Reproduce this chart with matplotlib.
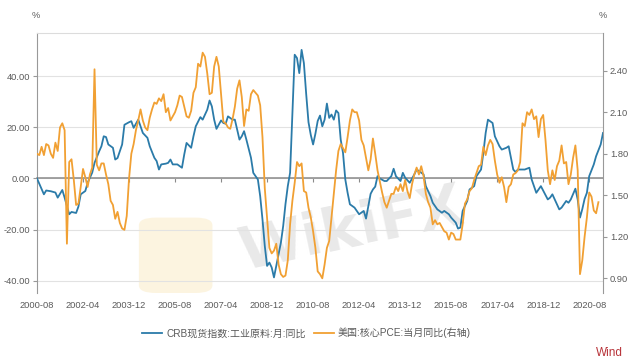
import numpy as np
import pandas as pd
import matplotlib
matplotlib.use('Agg')
import matplotlib.pyplot as plt
from matplotlib.patches import FancyBboxPatch

plt.rcParams['font.family'] = ['Liberation Sans', 'Noto Sans CJK SC', 'DejaVu Sans']
plt.rcParams['axes.unicode_minus'] = False

# CRB raw industrials, yoy (%), left axis
crb_data = [
    ("2000-08", 0.0), ("2000-11", -6.2), ("2000-12", -4.7),
    ("2001-02", -5.0), ("2001-04", -5.5), ("2001-05", -7.5), ("2001-07", -4.5), ("2001-08", -7.5),
    ("2001-10", -14.0), ("2001-11", -13.1),
    ("2002-01", -13.5), ("2002-02", -11.0), ("2002-03", -6.2), ("2002-05", -4.9), ("2002-06", -1.7),
    ("2002-08", 2.3), ("2002-09", 6.1), ("2002-11", 10.6), ("2002-12", 12.6),
    ("2003-01", 16.5), ("2003-02", 16.2), ("2003-03", 13.3), ("2003-05", 12.0), ("2003-06", 7.4),
    ("2003-07", 8.0), ("2003-09", 13.3), ("2003-10", 21.0), ("2003-12", 22.0),
    ("2004-01", 22.4), ("2004-02", 19.8), ("2004-04", 23.0), ("2004-06", 17.8), ("2004-08", 15.9),
    ("2004-09", 12.6), ("2004-11", 8.1), ("2004-12", 6.8),
    ("2005-01", 3.5), ("2005-02", 5.5), ("2005-04", 5.8), ("2005-05", 6.1), ("2005-06", 7.4),
    ("2005-07", 5.5), ("2005-09", 5.5), ("2005-11", 4.2), ("2005-12", 9.4),
    ("2006-01", 13.9), ("2006-03", 12.0), ("2006-04", 16.5), ("2006-05", 20.4), ("2006-07", 24.0),
    ("2006-08", 23.0), ("2006-10", 26.9), ("2006-11", 30.5), ("2006-12", 28.2),
    ("2007-01", 23.0), ("2007-02", 19.4), ("2007-04", 22.7), ("2007-05", 21.7), ("2007-06", 21.4),
    ("2007-07", 24.3), ("2007-09", 23.0), ("2007-10", 23.0), ("2007-12", 15.2),
    ("2008-01", 16.5), ("2008-02", 18.5), ("2008-03", 15.2), ("2008-05", 8.1), ("2008-06", 2.2),
    ("2008-08", -0.4), ("2008-09", -6.9), ("2008-10", -16.0), ("2008-11", -26.4), ("2008-12", -34.2),
    ("2009-01", -32.9), ("2009-02", -34.8), ("2009-03", -38.7), ("2009-04", -34.2), ("2009-06", -25.1),
    ("2009-07", -18.6), ("2009-08", -10.0), ("2009-09", -3.0), ("2009-10", 2.2), ("2009-11", 25.6),
    ("2009-12", 48.4),
    ("2010-01", 47.1), ("2010-02", 41.2), ("2010-03", 50.3), ("2010-04", 45.1), ("2010-05", 33.0),
    ("2010-06", 22.0), ("2010-07", 17.0), ("2010-08", 13.3), ("2010-09", 17.5), ("2010-10", 22.5),
    ("2010-11", 24.6), ("2010-12", 20.4),
    ("2011-01", 23.0), ("2011-02", 29.3), ("2011-03", 23.7), ("2011-04", 25.0), ("2011-05", 23.0),
    ("2011-06", 26.6), ("2011-07", 25.6), ("2011-08", 15.2), ("2011-09", 10.0), ("2011-10", -0.4),
    ("2011-11", -5.6), ("2011-12", -10.1),
    ("2012-02", -11.4), ("2012-03", -12.7), ("2012-04", -14.0), ("2012-06", -12.7), ("2012-07", -15.7),
    ("2012-08", -10.8), ("2012-09", -6.0), ("2012-10", -4.3), ("2012-11", -3.2), ("2012-12", 0.9),
    ("2013-01", 0.0), ("2013-03", -1.0), ("2013-04", -1.0), ("2013-06", 0.9), ("2013-07", 3.8),
    ("2013-08", 0.9), ("2013-10", -1.0), ("2013-11", 2.2), ("2013-12", 0.3),
    ("2014-02", -1.7), ("2014-04", 1.6), ("2014-05", 3.5), ("2014-06", 2.9), ("2014-08", 1.6),
    ("2014-09", -3.0), ("2014-11", -6.9), ("2014-12", -9.5),
    ("2015-02", -12.1), ("2015-04", -13.4), ("2015-05", -12.7), ("2015-07", -14.0), ("2015-08", -15.3),
    ("2015-10", -17.3), ("2015-11", -19.6), ("2015-12", -19.2),
    ("2016-01", -12.7), ("2016-03", -8.8), ("2016-04", -4.3), ("2016-06", -3.0), ("2016-07", 0.9),
    ("2016-09", 3.5), ("2016-10", 10.0), ("2016-11", 17.8), ("2016-12", 23.0),
    ("2017-02", 21.7), ("2017-03", 16.5), ("2017-05", 12.6), ("2017-06", 11.3), ("2017-08", 12.0),
    ("2017-09", 12.6), ("2017-10", 8.0), ("2017-11", 3.5), ("2017-12", 2.5),
    ("2018-01", 3.5), ("2018-03", 3.5), ("2018-04", 3.5), ("2018-06", 4.2), ("2018-07", -0.4),
    ("2018-09", -5.6), ("2018-11", -3.0),
    ("2019-02", -8.2), ("2019-03", -7.5), ("2019-04", -6.2), ("2019-07", -12.1), ("2019-08", -11.4),
    ("2019-10", -8.8), ("2019-11", -9.5), ("2019-12", -8.2),
    ("2020-02", -4.0), ("2020-03", -8.2), ("2020-04", -15.3), ("2020-05", -12.0), ("2020-06", -8.0),
    ("2020-07", -5.6), ("2020-08", 0.9), ("2020-10", 5.5), ("2020-11", 8.7),
    ("2021-01", 13.3), ("2021-02", 17.8),
]

# US core PCE yoy (%), right axis, monthly from pce_start
pce_start = "2000-08"
pce_values = [
    1.80, 1.79, 1.85, 1.79, 1.87,
    1.86, 1.80, 1.77, 1.88, 1.82, 1.99, 2.02, 1.97, 1.15, 1.74, 1.76, 1.61,
    1.43, 1.44, 1.56, 1.69, 1.63, 1.56, 1.65, 1.70, 2.41, 1.72, 1.68, 1.73,
    1.73, 1.65, 1.58, 1.46, 1.43, 1.33, 1.38, 1.30, 1.26, 1.25, 1.35, 1.62,
    1.80, 1.87, 1.97, 2.04, 2.12, 2.04, 1.99, 1.97, 2.06, 2.12, 2.17, 2.16,
    2.20, 2.18, 2.23, 2.10, 2.13, 2.04, 2.07, 2.10, 2.15, 2.22, 2.21, 2.14,
    2.07, 2.06, 2.11, 2.24, 2.28, 2.45, 2.43, 2.53, 2.50, 2.38, 2.23, 2.24,
    2.43, 2.50, 2.43, 2.23, 2.03, 2.02, 1.99, 1.98, 2.05, 2.14, 2.27, 2.33,
    2.21, 2.00, 2.12, 2.11, 2.23, 2.26, 2.24, 2.22, 2.15, 1.92, 1.55, 1.34,
    1.12, 1.08, 1.10, 1.15, 1.00, 0.93, 0.91, 0.92, 1.03, 1.29, 1.46, 1.59,
    1.74, 1.71, 1.73, 1.53, 1.52, 1.41, 1.34, 1.24, 1.12, 0.95, 0.93, 0.90,
    1.00, 1.12, 1.17, 1.34, 1.51, 1.68, 1.82, 1.87, 1.84, 1.81, 1.92, 2.04,
    2.12, 2.10, 2.10, 2.04, 1.90, 1.86, 1.77, 1.68, 1.76, 1.91, 1.80, 1.68,
    1.60, 1.52, 1.45, 1.41, 1.46, 1.51, 1.51, 1.56, 1.53, 1.58, 1.53, 1.61,
    1.53, 1.48, 1.58, 1.65, 1.70, 1.65, 1.71, 1.64, 1.51, 1.45, 1.41, 1.29,
    1.32, 1.29, 1.30, 1.27, 1.24, 1.23, 1.18, 1.23, 1.22, 1.18, 1.18, 1.18,
    1.29, 1.44, 1.47, 1.53, 1.55, 1.61, 1.66, 1.71, 1.72, 1.85, 1.79, 1.86,
    1.90, 1.87, 1.75, 1.65, 1.59, 1.63, 1.56, 1.45, 1.56, 1.58, 1.65, 1.66,
    1.68, 1.74, 2.02, 2.00, 2.10, 2.08, 2.12, 2.05, 2.07, 1.92, 2.05, 2.08,
    1.90, 1.68, 1.58, 1.68, 1.61, 1.71, 1.75, 1.86, 1.73, 1.74, 1.58, 1.65,
    1.77, 1.86, 1.68, 0.93, 1.03, 1.20, 1.34, 1.52, 1.49, 1.39, 1.37, 1.45,
]

x_ticklabels = ["2000-08", "2002-04", "2003-12", "2005-08", "2007-04", "2008-12", "2010-08",
                "2012-04", "2013-12", "2015-08", "2017-04", "2018-12", "2020-08"]
x_end = "2021-02"
left_ticks = [-40, -20, 0, 20, 40]
right_ticks = [0.9, 1.2, 1.5, 1.8, 2.1, 2.4]

crb_label = "CRB现货指数:工业原料:月:同比"
pce_label = "美国:核心PCE:当月同比(右轴)"

BLUE = "#2b7ba9"
ORANGE = "#f1a033"
TXT = "#5a5a5a"

start = pd.Period(pce_start, "M")


def month_pos(s):
    return (pd.Period(s, "M") - start).n


crb_x = np.array([month_pos(m) for m, _ in crb_data])
crb_y = np.array([v for _, v in crb_data])
pce_x = np.arange(len(pce_values))
pce_y = np.array(pce_values)

fig = plt.figure(figsize=(6.36, 3.64), dpi=100)
ax = fig.add_axes([37/636, 1 - 293/364, 566/636, 260/364])
ax2 = ax.twinx()

# watermark (faint)
logo = FancyBboxPatch((0.18, 0.0), 0.13, 0.29, boxstyle="round,pad=0,rounding_size=0.03",
                      transform=ax.transAxes, fc="#fcf2d9", ec="none", alpha=0.8, zorder=0)
ax.add_patch(logo)
ax.text(0.555, 0.24, "WikiFX", transform=ax.transAxes, fontsize=42, fontweight="bold",
        color="#e9e9e9", rotation=12, ha="center", va="center", zorder=0, family="DejaVu Sans")

l1, = ax.plot(crb_x, crb_y, color=BLUE, lw=1.3, zorder=3)
l2, = ax2.plot(pce_x, pce_y, color=ORANGE, lw=1.3, zorder=3)

ax.set_xlim(0, month_pos(x_end))
ax.set_ylim(-44.8, 56.9)
ax2.set_ylim(0.794, 2.672)

ax.set_yticks(left_ticks)
ax.set_yticklabels(["%.2f" % v for v in left_ticks])
ax2.set_yticks(right_ticks)
ax2.set_yticklabels(["%.2f" % v for v in right_ticks])

ax.grid(axis="y", color="#e2e2e2", lw=0.8)
ax.set_axisbelow(True)

# x axis line on the zero level, labels at the bottom
tick_pos = [month_pos(s) for s in x_ticklabels]
ax.spines["bottom"].set_position(("data", 0))
ax.spines["bottom"].set_color("#8a8a8a")
ax.spines["bottom"].set_linewidth(1.1)
ax.set_xticks(tick_pos)
ax.tick_params(axis="x", length=3, width=0.8, color="#8a8a8a", labelbottom=False)
sec = ax.secondary_xaxis("bottom")
sec.set_xticks(tick_pos)
sec.set_xticklabels(x_ticklabels)
sec.tick_params(length=0, pad=6, labelsize=6.7, labelcolor=TXT)
for s in sec.spines.values():
    s.set_visible(False)

ax.spines["left"].set_color("#999999")
ax.spines["top"].set_color("#dcdcdc")
ax.spines["top"].set_linewidth(0.8)
ax.spines["right"].set_visible(False)
ax.tick_params(axis="y", length=3, width=0.8, color="#999999", labelsize=6.7, labelcolor=TXT, pad=2)

for k in ["left", "top", "bottom"]:
    ax2.spines[k].set_visible(False)
ax2.spines["right"].set_color("#999999")
ax2.tick_params(axis="y", length=3, width=0.8, color="#999999", labelsize=6.7, labelcolor=TXT, pad=2)

fig.text(36/636, 1 - 16/364, "%", ha="center", va="center", fontsize=6.7, color=TXT)
fig.text(603/636, 1 - 16/364, "%", ha="center", va="center", fontsize=6.7, color=TXT)

fig.legend([l1, l2], [crb_label, pce_label], loc="center", bbox_to_anchor=(0.482, 1 - 333/364),
           ncol=2, frameon=False, fontsize=7.2, handlelength=2.0, columnspacing=0.8,
           handletextpad=0.4, labelcolor=TXT)

fig.text(609/636, 1 - 353/364, "Wind", ha="center", va="center", fontsize=8.5, color="#b8343a")

fig.savefig("out.png", dpi=100)
